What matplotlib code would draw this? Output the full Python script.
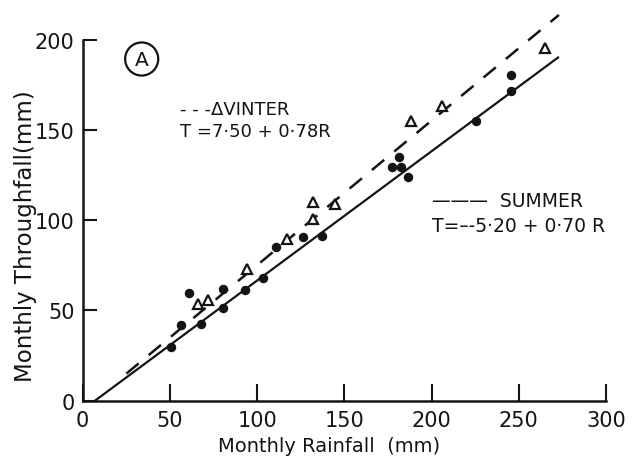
import matplotlib
matplotlib.use("Agg")
import matplotlib.pyplot as plt

# ---- data ----
summer_R = [50.5, 56.4, 61.1, 67.7, 80.6, 80.6, 93.1, 103.6, 110.7, 126.1, 137.0,
            177.5, 181.4, 182.3, 186.7, 225.3, 245.4, 245.6]
summer_T = [29.9, 41.9, 59.7, 42.3, 51.4, 61.9, 61.3, 67.8, 85.0, 90.5, 91.4,
            129.3, 134.8, 129.3, 124.1, 154.8, 180.7, 171.4]

winter_R = [66.3, 72.0, 94.0, 117.0, 131.9, 132.2, 144.7, 188.2, 206.2, 265.0]
winter_T = [53.6, 56.0, 73.0, 89.6, 100.7, 109.9, 109.0, 154.8, 163.4, 195.4]

# fitted lines as drawn
summer_fit_R = [7, 273]
summer_fit_T = [0, 190.5]
winter_fit_R = [25, 273]
winter_fit_T = [15, 213.7]

x_ticks = [0, 50, 100, 150, 200, 250, 300]
y_ticks = [0, 50, 100, 150, 200]

winter_label = "- - -\u0394VINTER"
winter_eq = "T =7\u00b750 + 0\u00b778R"
summer_label = "\u2014\u2014\u2014  SUMMER"
summer_eq = "T=\u2013-5\u00b720 + 0\u00b770 R"
panel_label = "A"

plt.rcParams['font.family'] = ['DejaVu Sans']
ink = '#141414'

fig = plt.figure(figsize=(6.32, 4.60), dpi=100)
fig.patch.set_facecolor('white')
ax = fig.add_axes([0.1309, 0.1267, 0.828, 0.8437])
ax.set_xlim(0, 300)
ax.set_ylim(0, 215)

ax.plot(summer_fit_R, summer_fit_T, color=ink, lw=1.6, solid_capstyle='butt', clip_on=False)
ax.plot(winter_fit_R, winter_fit_T, color=ink, lw=1.8, linestyle=(0, (6.4, 5.2)), clip_on=False)

ax.plot(summer_R, summer_T, linestyle='none', marker='o', ms=5.8, color=ink, clip_on=False)
ax.plot(winter_R, winter_T, linestyle='none', marker='^', ms=6.8, mfc='white', mec=ink,
        mew=1.6, clip_on=False)

for s in ['top', 'right']:
    ax.spines[s].set_visible(False)
for s in ['left', 'bottom']:
    ax.spines[s].set_linewidth(1.8)
    ax.spines[s].set_color(ink)
ax.spines['left'].set_bounds(0, 200)

ax.set_xticks(x_ticks)
ax.set_yticks(y_ticks)
ax.set_xticklabels([str(v) for v in x_ticks])
ax.set_yticklabels([str(v) for v in y_ticks])
ax.tick_params(axis='x', direction='in', length=12, width=1.5, pad=7, labelsize=15,
               colors=ink)
ax.tick_params(axis='y', direction='in', length=10, width=1.5, pad=6, labelsize=15,
               colors=ink)

ax.set_xlabel("Monthly Rainfall  (mm)", fontsize=14, color=ink, va='center')
ax.xaxis.set_label_coords(0.47, -0.116)
ax.set_ylabel("Monthly Throughfall(mm)", fontsize=16.5, color=ink, va='center')
ax.yaxis.set_label_coords(-0.11, 0.427)

ax.text(55.8, 161.6, winter_label, fontsize=13, color=ink, va='center', ha='left')
ax.text(55.8, 149.4, winter_eq, fontsize=13, color=ink, va='center', ha='left')
ax.text(200.3, 110.8, summer_label, fontsize=13.5, color=ink, va='center', ha='left')
ax.text(200.3, 97.0, summer_eq, fontsize=13.5, color=ink, va='center', ha='left')

ax.text(33.8, 189.3, panel_label, fontsize=14.5, color=ink, va='center', ha='center',
        bbox=dict(boxstyle='circle,pad=0.35', fc='none', ec=ink, lw=1.6))

fig.savefig('out.png', dpi=100, facecolor='white')
